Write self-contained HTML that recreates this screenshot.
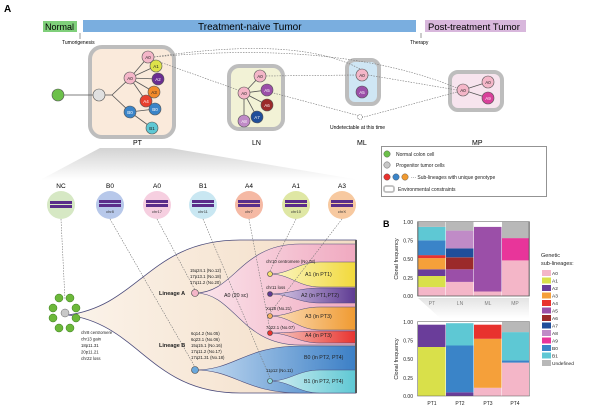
<!DOCTYPE html>
<html><head><meta charset="utf-8"><style>
html,body{margin:0;padding:0;background:#fff;}
svg{display:block;font-family:"Liberation Sans",Arial,sans-serif;}
</style></head><body>
<svg width="600" height="409" viewBox="0 0 600 409" xmlns="http://www.w3.org/2000/svg">
<defs>
<linearGradient id="beige" x1="0" x2="1" y1="0" y2="0"><stop offset="0" stop-color="#fbf3ea"/><stop offset="1" stop-color="#f3dcc4"/></linearGradient>
<linearGradient id="pink" x1="0" x2="1"><stop offset="0" stop-color="#fbe6ec"/><stop offset="1" stop-color="#f0a9c0"/></linearGradient>
<linearGradient id="blue" x1="0" x2="1"><stop offset="0" stop-color="#c8ddf2"/><stop offset="1" stop-color="#3b7fc6"/></linearGradient>
<linearGradient id="yel" x1="0" x2="1"><stop offset="0" stop-color="#fbf6c8"/><stop offset="1" stop-color="#f2d93a"/></linearGradient>
<linearGradient id="pur" x1="0" x2="1"><stop offset="0" stop-color="#ddd0ea"/><stop offset="1" stop-color="#5d3a92"/></linearGradient>
<linearGradient id="ora" x1="0" x2="1"><stop offset="0" stop-color="#fbe0c0"/><stop offset="1" stop-color="#f09a30"/></linearGradient>
<linearGradient id="red" x1="0" x2="1"><stop offset="0" stop-color="#f8d0c8"/><stop offset="1" stop-color="#e8322e"/></linearGradient>
<linearGradient id="cy" x1="0" x2="1"><stop offset="0" stop-color="#d4eef2"/><stop offset="1" stop-color="#5ec8d4"/></linearGradient>
<linearGradient id="shade" x1="0" x2="0" y1="0" y2="1"><stop offset="0" stop-color="#c8c8c8"/><stop offset="1" stop-color="#ffffff"/></linearGradient>
</defs>

<text x="4" y="12" font-size="10" font-weight="bold">A</text>
<rect x="43" y="21" width="34" height="11" fill="#7fcf7a"/>
<text x="45" y="30" font-size="9">Normal</text>
<rect x="83" y="20" width="333" height="12" fill="#7aaedf"/>
<text x="198" y="30" font-size="10">Treatment-naive Tumor</text>
<rect x="425" y="20" width="101" height="12" fill="#d8b7dc"/>
<text x="428" y="30" font-size="9.5">Post-treatment Tumor</text>
<line x1="80" y1="33" x2="80" y2="39" stroke="#555" stroke-width="0.6"/>
<text x="62" y="44" font-size="5">Tumorigenesis</text>
<line x1="421" y1="33" x2="421" y2="38" stroke="#555" stroke-width="0.6"/>
<text x="410" y="44" font-size="5">Therapy</text>

<!-- boxes -->
<rect x="90" y="47" width="84" height="90" rx="12" fill="#faeadb" stroke="#bdbdbd" stroke-width="4"/>
<rect x="229" y="66" width="54" height="63" rx="10" fill="#f2f2d6" stroke="#bdbdbd" stroke-width="4"/>
<rect x="347" y="60" width="32" height="44" rx="8" fill="#cfe6f4" stroke="#bdbdbd" stroke-width="4"/>
<rect x="450" y="72" width="52" height="38" rx="8" fill="#f7e4ee" stroke="#bdbdbd" stroke-width="4"/>
<text x="133" y="145" font-size="7">PT</text>
<text x="252" y="145" font-size="7">LN</text>
<text x="357" y="145" font-size="7">ML</text>
<text x="472" y="145" font-size="7">MP</text>
<text x="330" y="129" font-size="5">Undetectable at this time</text>

<!-- dashed connectors -->
<g stroke="#777" stroke-width="0.6" stroke-dasharray="1.5,1.2" fill="none">
<path d="M154,57 Q300,35 362,70"/>
<path d="M154,57 Q340,40 457,88"/>
<path d="M154,60 L238,90"/>
<path d="M266,76 L356,75"/>
<path d="M266,91 L360,116"/>
<path d="M368,75 L457,90"/>
<path d="M364,117 L457,92"/>
</g>
<circle cx="360" cy="117" r="2.5" fill="#fff" stroke="#555" stroke-width="0.6" stroke-dasharray="1,0.8"/>

<!-- PT tree -->
<g stroke="#555" stroke-width="0.8">
<line x1="58" y1="95" x2="99" y2="95"/><line x1="99" y1="95" x2="112" y2="95"/>
<line x1="112" y1="95" x2="130" y2="78"/><line x1="112" y1="95" x2="130" y2="112"/>
<line x1="130" y1="78" x2="148" y2="57"/><line x1="130" y1="78" x2="156" y2="66"/><line x1="130" y1="78" x2="158" y2="79"/><line x1="130" y1="78" x2="154" y2="92"/><line x1="130" y1="78" x2="146" y2="101"/>
<line x1="130" y1="112" x2="155" y2="109"/><line x1="130" y1="112" x2="152" y2="128"/>
<line x1="244" y1="93" x2="260" y2="76"/><line x1="244" y1="93" x2="267" y2="90"/><line x1="244" y1="93" x2="267" y2="105"/><line x1="244" y1="93" x2="257" y2="117"/><line x1="244" y1="93" x2="244" y2="121"/>
<line x1="463" y1="90" x2="488" y2="82"/><line x1="463" y1="90" x2="488" y2="98"/>
</g>
<g stroke="#555" stroke-width="0.6" font-size="4.5" text-anchor="middle">
<circle cx="58" cy="95" r="6" fill="#6cc04a"/>
<circle cx="99" cy="95" r="6" fill="#e0e0e0"/>
<circle cx="148" cy="57" r="6" fill="#f4b6c8"/><circle cx="156" cy="66" r="6" fill="#dde24a"/><circle cx="158" cy="79" r="6" fill="#6a2d91"/><circle cx="154" cy="92" r="6" fill="#f28a2a"/><circle cx="146" cy="101" r="6" fill="#e8402e"/>
<circle cx="130" cy="78" r="6" fill="#f4b6c8"/><circle cx="130" cy="112" r="6" fill="#3a84c8"/><circle cx="155" cy="109" r="6" fill="#3a84c8"/><circle cx="152" cy="128" r="6" fill="#5ec8d4"/>
<circle cx="244" cy="93" r="6" fill="#f4b6c8"/><circle cx="260" cy="76" r="6" fill="#f4b6c8"/><circle cx="267" cy="90" r="6" fill="#9b4fa8"/><circle cx="267" cy="105" r="6" fill="#9b2a2a"/><circle cx="257" cy="117" r="6" fill="#1f4e9a"/><circle cx="244" cy="121" r="6" fill="#c08bc7"/>
<circle cx="362" cy="75" r="6" fill="#f4b6c8"/><circle cx="362" cy="92" r="6" fill="#9b4fa8"/>
<circle cx="463" cy="90" r="6" fill="#f4b6c8"/><circle cx="488" cy="82" r="6" fill="#f4b6c8"/><circle cx="488" cy="98" r="6" fill="#d8409a"/>
</g>
<g font-size="4.5" text-anchor="middle" fill="#222">
<text x="148" y="59">A0</text><text x="156" y="68">A1</text><text x="158" y="81" fill="#fff">A2</text><text x="154" y="94">A3</text><text x="146" y="103" fill="#fff">A4</text>
<text x="130" y="80">A0</text><text x="130" y="114" fill="#fff">B0</text><text x="155" y="111" fill="#fff">B0</text><text x="152" y="130">B1</text>
<text x="244" y="95">A0</text><text x="260" y="78">A0</text><text x="267" y="92" fill="#fff">A5</text><text x="267" y="107" fill="#fff">A6</text><text x="257" y="119" fill="#fff">A7</text><text x="244" y="123" fill="#fff">A8</text>
<text x="362" y="77">A0</text><text x="362" y="94" fill="#fff">A5</text>
<text x="463" y="92">A0</text><text x="488" y="84">A0</text><text x="488" y="100" fill="#fff">A9</text>
</g>

<!-- shade -->
<path d="M100,148 L170,148 L360,180 L40,180 Z" fill="url(#shade)" opacity="0.8"/>

<!-- chromosome circles -->
<g font-size="6.5" text-anchor="middle">
<text x="61" y="188">NC</text><text x="110" y="188">B0</text><text x="157" y="188">A0</text><text x="203" y="188">B1</text><text x="249" y="188">A4</text><text x="296" y="188">A1</text><text x="342" y="188">A3</text>
</g>
<g>
<circle cx="61" cy="205" r="14" fill="#d6e8c4"/><circle cx="110" cy="205" r="14" fill="#b7c8ea"/><circle cx="157" cy="205" r="14" fill="#f6cfe0"/><circle cx="203" cy="205" r="14" fill="#c9e7f2"/><circle cx="249" cy="205" r="14" fill="#f5b9a4"/><circle cx="296" cy="205" r="14" fill="#dfe7a4"/><circle cx="342" cy="205" r="14" fill="#f7c9a0"/>
</g>
<g fill="#5a2d8a">
<rect x="50" y="201" width="22" height="3"/><rect x="50" y="205" width="22" height="3"/>
<rect x="99" y="200" width="22" height="3"/><rect x="99" y="204" width="22" height="3"/>
<rect x="146" y="200" width="22" height="3"/><rect x="146" y="204" width="22" height="3"/>
<rect x="192" y="200" width="22" height="3"/><rect x="192" y="204" width="22" height="3"/>
<rect x="238" y="200" width="22" height="3"/><rect x="238" y="204" width="22" height="3"/>
<rect x="285" y="200" width="22" height="3"/><rect x="285" y="204" width="22" height="3"/>
<rect x="331" y="200" width="22" height="3"/><rect x="331" y="204" width="22" height="3"/>
</g>
<g font-size="4" text-anchor="middle" fill="#333">
<text x="110" y="213">chr8</text><text x="157" y="213">chr17</text><text x="203" y="213">chr11</text><text x="249" y="213">chr7</text><text x="296" y="213">chr10</text><text x="342" y="213">chrX</text>
</g>

<!-- fish plot -->
<path d="M68,315 C140,305 150,240 240,240 L356,240 L356,393 L240,393 C150,393 140,325 68,315 Z" fill="url(#beige)" stroke="#4a4a7a" stroke-width="0.8"/>
<path d="M195,293 C235,293 240,244 300,244 L356,244 L356,345 L300,345 C240,345 235,293 195,293 Z" fill="url(#pink)" stroke="#4a4a7a" stroke-width="0.6"/>
<path d="M195,370 C235,370 245,346 300,346 L356,346 L356,393 L300,393 C245,393 235,370 195,370 Z" fill="url(#blue)" stroke="#4a4a7a" stroke-width="0.6"/>
<path d="M270,274 C290,274 298,262 320,262 L356,262 L356,287 L320,287 C298,287 290,274 270,274 Z" fill="url(#yel)" stroke="#4a4a7a" stroke-width="0.5"/>
<path d="M270,294 C290,294 298,288 320,288 L356,288 L356,303 L320,303 C298,303 290,294 270,294 Z" fill="url(#pur)" stroke="#4a4a7a" stroke-width="0.5"/>
<path d="M270,316 C290,316 298,307 320,307 L356,307 L356,330 L320,330 C298,330 290,316 270,316 Z" fill="url(#ora)" stroke="#4a4a7a" stroke-width="0.5"/>
<path d="M270,333 C290,333 298,331 320,331 L356,331 L356,343 L320,343 C298,343 290,333 270,333 Z" fill="url(#red)" stroke="#4a4a7a" stroke-width="0.5"/>
<path d="M270,381 C290,381 298,370 320,370 L356,370 L356,393 L320,393 C298,393 290,381 270,381 Z" fill="url(#cy)" stroke="#4a4a7a" stroke-width="0.5"/>
<rect x="355" y="240" width="2" height="153" fill="#555"/>

<!-- dashed vertical connectors -->
<g stroke="#777" stroke-width="0.6" stroke-dasharray="1.5,1.2" fill="none">
<line x1="61" y1="219" x2="65" y2="300"/>
<line x1="110" y1="219" x2="195" y2="367"/>
<line x1="157" y1="219" x2="195" y2="290"/>
<line x1="203" y1="219" x2="270" y2="378"/>
<line x1="249" y1="219" x2="270" y2="330"/>
<line x1="296" y1="219" x2="270" y2="271"/>
<line x1="342" y1="219" x2="270" y2="313"/>
</g>

<!-- green cluster -->
<g fill="#6cb83a" stroke="#3a7a20" stroke-width="0.5">
<circle cx="59" cy="298" r="4"/><circle cx="70" cy="298" r="4"/><circle cx="53" cy="308" r="4"/><circle cx="76" cy="308" r="4"/><circle cx="53" cy="318" r="4"/><circle cx="76" cy="318" r="4"/><circle cx="59" cy="328" r="4"/><circle cx="70" cy="328" r="4"/>
</g>
<circle cx="65" cy="313" r="4" fill="#c8c8c8" stroke="#666" stroke-width="0.5"/>

<g stroke="#444" stroke-width="0.6">
<circle cx="195" cy="293" r="3.5" fill="#f4b6c8"/><circle cx="195" cy="370" r="3.5" fill="#6aa8dc"/>
<circle cx="270" cy="274" r="2.5" fill="#f2e06a"/><circle cx="270" cy="294" r="2.5" fill="#5d3a92"/><circle cx="270" cy="316" r="2.5" fill="#f2b060"/><circle cx="270" cy="333" r="2.5" fill="#e8322e"/><circle cx="270" cy="381" r="2.5" fill="#8ad8e0"/>
</g>

<g font-size="4.3" fill="#222">
<text x="81" y="334">chr8 centromere</text><text x="81" y="340.5">chr13 gain</text><text x="81" y="347">18p11.31</text><text x="81" y="353.5">20p11.21</text><text x="81" y="360">chr22 loss</text>
<text x="190" y="272">15q24.1 (No.12)</text><text x="190" y="278">17p13.1 (No.18)</text><text x="190" y="284">17q11.2 (No.20)</text>
<text x="191" y="335">6q14.2 (No.05)</text><text x="191" y="341">6q23.1 (No.06)</text><text x="191" y="347">15q15.1 (No.16)</text><text x="191" y="353">17q11.2 (No.17)</text><text x="191" y="359">17q21.31 (No.18)</text>
<text x="266" y="263">chr10 centromere (No.08)</text><text x="266" y="289">chr11 loss</text><text x="266" y="310">Xq28 (No.21)</text><text x="266" y="329">7q22.1 (No.07)</text><text x="266" y="372">11p12 (No.11)</text>
</g>
<g font-size="5.5" font-weight="bold" fill="#222">
<text x="159" y="295">Lineage A</text><text x="159" y="347">Lineage B</text>
</g>
<g font-size="5.3" fill="#222">
<text x="224" y="297">A0 (20 sc)</text>
<text x="305" y="276">A1 (in PT1)</text><text x="301" y="297">A2 (in PT1,PT2)</text><text x="305" y="318">A3 (in PT3)</text><text x="305" y="337">A4 (in PT3)</text>
<text x="304" y="359">B0 (in PT2, PT4)</text><text x="304" y="383">B1 (in PT2, PT4)</text>
</g>

<!-- legend -->
<rect x="381.5" y="146.5" width="165" height="50" fill="#fff" stroke="#666" stroke-width="0.7"/>
<circle cx="387" cy="154" r="3.2" fill="#6cc04a" stroke="#444" stroke-width="0.4"/>
<circle cx="387" cy="165" r="3.2" fill="#c8c8c8" stroke="#444" stroke-width="0.4"/>
<circle cx="387" cy="177" r="3.2" fill="#e8322e" stroke="#444" stroke-width="0.4"/>
<circle cx="396" cy="177" r="3.2" fill="#3a84c8" stroke="#444" stroke-width="0.4"/>
<circle cx="405" cy="177" r="3.2" fill="#f09a30" stroke="#444" stroke-width="0.4"/>
<rect x="384" y="186" width="10" height="6" rx="2" fill="#fff" stroke="#bdbdbd" stroke-width="1.8"/>
<g font-size="5" fill="#222">
<text x="396" y="156">Normal colon cell</text>
<text x="396" y="167">Progenitor tumor cells</text>
<text x="411" y="179">··· Sub-lineages with unique genotype</text>
<text x="398" y="191">Environmental constraints</text>
</g>

<!-- B chart -->
<text x="383" y="227" font-size="9" font-weight="bold">B</text>
<g font-size="5" fill="#222">
<text transform="translate(398,259) rotate(-90)" text-anchor="middle" font-size="5.5">Clonal frequency</text>
<text transform="translate(398,359) rotate(-90)" text-anchor="middle" font-size="5.5">Clonal frequency</text>
<g text-anchor="end">
<text x="413" y="224">1.00</text><text x="413" y="242.5">0.75</text><text x="413" y="261">0.50</text><text x="413" y="280">0.25</text><text x="413" y="298">0.00</text>
<text x="413" y="324">1.00</text><text x="413" y="342.5">0.75</text><text x="413" y="361">0.50</text><text x="413" y="380">0.25</text><text x="413" y="398">0.00</text>
</g>
<g text-anchor="middle">
<text x="432" y="305">PT</text><text x="460" y="305">LN</text><text x="488" y="305">ML</text><text x="515" y="305">MP</text>
<text x="432" y="405">PT1</text><text x="460" y="405">PT2</text><text x="488" y="405">PT3</text><text x="515" y="405">PT4</text>
</g>
</g>
<path d="M418,298 L529,298 L529,318 L440,318 Z" fill="url(#shade)" opacity="0.5"/>

<!-- chart1 bars: y0=296, h=74.3 -->
<g>
<!-- PT -->
<rect x="418" y="287.1" width="27.5" height="8.9" fill="#f4b6c8"/>
<rect x="418" y="275.9" width="27.5" height="11.2" fill="#d9e04a"/>
<rect x="418" y="269.3" width="27.5" height="6.7" fill="#6a3d9a"/>
<rect x="418" y="258.1" width="27.5" height="11.2" fill="#f5a03a"/>
<rect x="418" y="255.1" width="27.5" height="3" fill="#e8322e"/>
<rect x="418" y="240.3" width="27.5" height="14.9" fill="#3a84c8"/>
<rect x="418" y="226.9" width="27.5" height="13.4" fill="#5ec8d4"/>
<rect x="418" y="221.7" width="27.5" height="5.2" fill="#b8b8b8"/>
<!-- LN -->
<rect x="446" y="281.9" width="27.5" height="14.1" fill="#f4b6c8"/>
<rect x="446" y="269.3" width="27.5" height="12.6" fill="#9b4fa8"/>
<rect x="446" y="257.4" width="27.5" height="11.9" fill="#9b2a2a"/>
<rect x="446" y="248.4" width="27.5" height="8.9" fill="#1f4e9a"/>
<rect x="446" y="230.6" width="27.5" height="17.8" fill="#c08bc7"/>
<rect x="446" y="221.7" width="27.5" height="8.9" fill="#b8b8b8"/>
<!-- ML -->
<rect x="474" y="291.5" width="27.5" height="4.5" fill="#f4b6c8"/>
<rect x="474" y="226.9" width="27.5" height="64.6" fill="#9b4fa8"/>
<!-- MP -->
<rect x="502" y="260.3" width="27" height="35.7" fill="#f4b6c8"/>
<rect x="502" y="238.1" width="27" height="22.3" fill="#e8359a"/>
<rect x="502" y="221.7" width="27" height="16.4" fill="#b8b8b8"/>
</g>
<path d="M418,221.7 V296 H529 V221.7" fill="none" stroke="#555" stroke-width="0.6"/>
<rect x="417.5" y="221.7" width="112" height="74.3" fill="none" stroke="#555" stroke-width="0.5"/>

<!-- chart2 bars: y0=396 -->
<g>
<rect x="418" y="347" width="27.5" height="49" fill="#d9e04a"/>
<rect x="418" y="324.7" width="27.5" height="22.3" fill="#6a3d9a"/>
<rect x="446" y="392.3" width="27.5" height="3.7" fill="#6a3d9a"/>
<rect x="446" y="345.5" width="27.5" height="46.8" fill="#3a84c8"/>
<rect x="446" y="323.2" width="27.5" height="22.3" fill="#5ec8d4"/>
<rect x="474" y="387.8" width="27.5" height="8.2" fill="#f4b6c8"/>
<rect x="474" y="338.8" width="27.5" height="49" fill="#f5a03a"/>
<rect x="474" y="324.7" width="27.5" height="14.1" fill="#e8322e"/>
<rect x="502" y="362.6" width="27" height="33.4" fill="#f4b6c8"/>
<rect x="502" y="360.3" width="27" height="2.3" fill="#3a84c8"/>
<rect x="502" y="332.1" width="27" height="28.2" fill="#5ec8d4"/>
<rect x="502" y="321.7" width="27" height="10.4" fill="#b8b8b8"/>
</g>
<rect x="417.5" y="321.7" width="112" height="74.3" fill="none" stroke="#555" stroke-width="0.5"/>

<!-- sub-lineage legend -->
<g font-size="5.5" fill="#222">
<text x="541" y="257">Genetic</text><text x="541" y="265">sub-lineages:</text>
</g>
<g font-size="4.8" fill="#222">
<rect x="542" y="270" width="9" height="6" fill="#f4b6c8"/><text x="552" y="275">A0</text>
<rect x="542" y="277.5" width="9" height="6" fill="#d9e04a"/><text x="552" y="282.5">A1</text>
<rect x="542" y="285" width="9" height="6" fill="#6a3d9a"/><text x="552" y="290">A2</text>
<rect x="542" y="292.5" width="9" height="6" fill="#f5a03a"/><text x="552" y="297.5">A3</text>
<rect x="542" y="300" width="9" height="6" fill="#e8322e"/><text x="552" y="305">A4</text>
<rect x="542" y="307.5" width="9" height="6" fill="#9b4fa8"/><text x="552" y="312.5">A5</text>
<rect x="542" y="315" width="9" height="6" fill="#9b2a2a"/><text x="552" y="320">A6</text>
<rect x="542" y="322.5" width="9" height="6" fill="#1f4e9a"/><text x="552" y="327.5">A7</text>
<rect x="542" y="330" width="9" height="6" fill="#c08bc7"/><text x="552" y="335">A8</text>
<rect x="542" y="337.5" width="9" height="6" fill="#e8359a"/><text x="552" y="342.5">A9</text>
<rect x="542" y="345" width="9" height="6" fill="#3a84c8"/><text x="552" y="350">B0</text>
<rect x="542" y="352.5" width="9" height="6" fill="#5ec8d4"/><text x="552" y="357.5">B1</text>
<rect x="542" y="360" width="9" height="6" fill="#b8b8b8"/><text x="552" y="365">Undefined</text>
</g>
</svg>
</body></html>
